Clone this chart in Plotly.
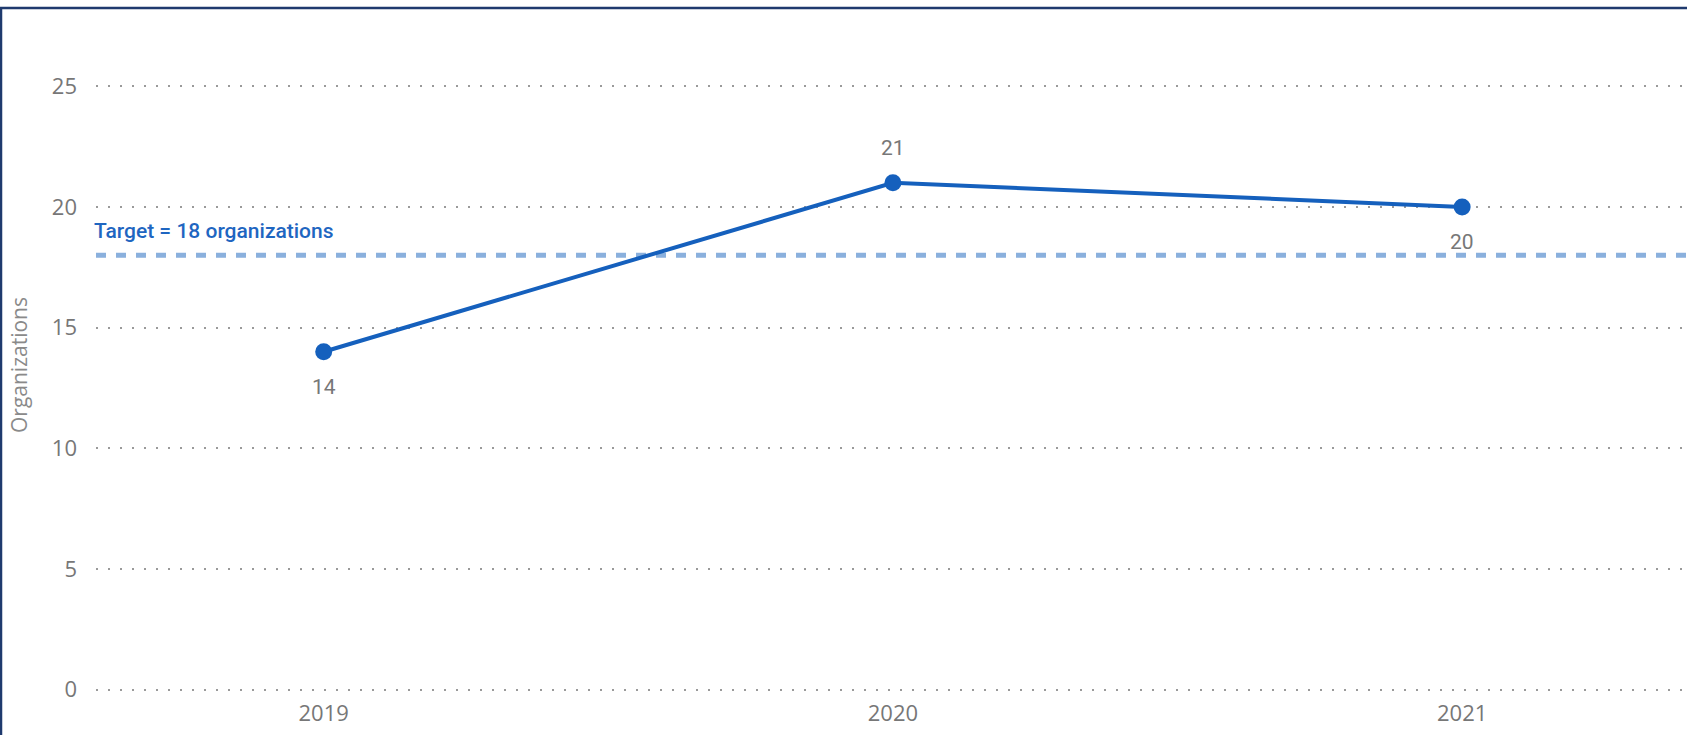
import plotly.graph_objects as go

years = [2019, 2020, 2021]
organizations = [14, 21, 20]
label_side = ["below", "above", "below"]
target_value = 18
target_label = "Target = 18 organizations"
y_ticks = [0, 5, 10, 15, 20, 25]
y_title = "Organizations"

LINE = "#1560BD"
GRAY = "#777777"

fig = go.Figure()
fig.add_trace(go.Scatter(
    x=years, y=organizations, mode="lines+markers",
    line=dict(color=LINE, width=4),
    marker=dict(color=LINE, size=17),
    hoverinfo="x+y", showlegend=False,
))

annotations = []
for x, y, side in zip(years, organizations, label_side):
    annotations.append(dict(
        x=x, y=y, xref="x", yref="y", text=str(y), showarrow=False,
        yshift=35 if side == "above" else -35,
        font=dict(family="Roboto", size=21, color=GRAY),
    ))
annotations.append(dict(
    x=0, y=target_value, xref="paper", yref="y", xanchor="left", yanchor="middle",
    text=target_label, showarrow=False, yshift=24, xshift=-4,
    font=dict(family="Roboto", size=21, color="#1F66C1", weight=500),
))

plot_l, plot_w = 96, 1687 - 96
plot_t, plot_b = 38, 692.4
plot_h = plot_b - plot_t

shapes = [
    dict(type="line", xref="paper", yref="y", x0=0, x1=1, y0=target_value, y1=target_value,
         line=dict(color="#8AB0DD", width=5, dash="10px,10px"), layer="below"),
    dict(type="line", xref="paper", yref="paper",
         x0=(1 - plot_l) / plot_w, x1=(1 - plot_l) / plot_w,
         y0=(plot_b - 8) / plot_h, y1=(plot_b - 740) / plot_h,
         line=dict(color="#1F3A6E", width=2.5)),
    dict(type="line", xref="paper", yref="paper",
         x0=(0 - plot_l) / plot_w, x1=1.01,
         y0=(plot_b - 8) / plot_h, y1=(plot_b - 8) / plot_h,
         line=dict(color="#1F3A6E", width=2.5)),
]

fig.update_layout(
    width=1687, height=735,
    margin=dict(l=plot_l, r=0, t=plot_t, b=735 - plot_b, pad=0),
    paper_bgcolor="white", plot_bgcolor="white",
    annotations=annotations, shapes=shapes,
    xaxis=dict(
        range=[2018.6, 2021.395], tickvals=years, ticktext=[str(y) for y in years],
        showgrid=False, zeroline=False, showline=False, ticks="",
        tickfont=dict(family="Open Sans", size=22, color=GRAY), ticklabelstandoff=6,
    ),
    yaxis=dict(
        range=[-0.1, 27], tickvals=y_ticks, showgrid=True, gridcolor="#9a9a9a",
        gridwidth=2, griddash="2px,10px", zeroline=False, showline=False, ticks="",
        tickfont=dict(family="Open Sans", size=22, color=GRAY), ticklabelstandoff=18,
        title=dict(text=y_title, font=dict(family="Open Sans", size=21, color="#8a8a8a"),
                   standoff=18),
    ),
)

fig.write_html("out.html", config={"displayModeBar": False},
               post_script="document.body.style.margin='0';")
